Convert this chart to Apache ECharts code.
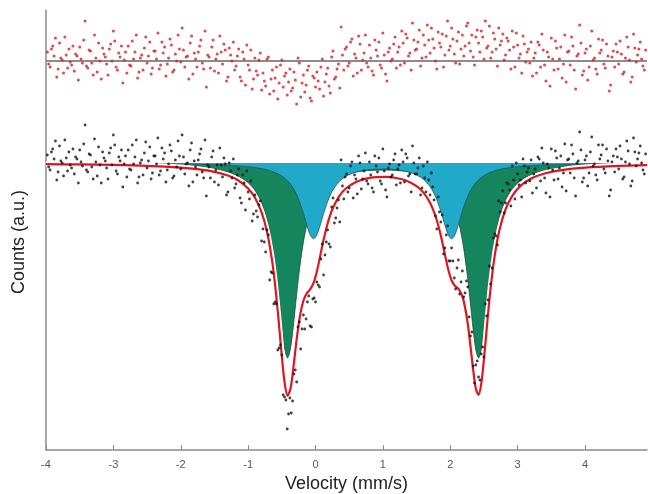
<!DOCTYPE html>
<html>
<head>
<meta charset="utf-8">
<script src="https://cdn.jsdelivr.net/npm/echarts@6/dist/echarts.min.js"></script>
<style>
html,body{margin:0;padding:0;background:#fff;}
#chart{width:648px;height:494px;}
</style>
</head>
<body>
<div id="chart"></div>
<script>
// Velocity grid of the fitted curves (mm/s)
const V_CURVE = [-4.0,-3.5,-3.0,-2.5,-2.0,-1.75,-1.5,-1.3,-1.15,-1.0,-0.9,-0.8,-0.72,-0.65,-0.6,-0.55,-0.5,-0.46,-0.415,-0.37,-0.33,-0.28,-0.23,-0.18,-0.13,-0.08,-0.03,0.02,0.07,0.12,0.18,0.25,0.35,0.45,0.6,0.75,0.9,1.05,1.2,1.35,1.5,1.6,1.7,1.78,1.85,1.91,1.97,2.02,2.07,2.13,2.19,2.25,2.3,2.34,2.38,2.42,2.46,2.5,2.55,2.6,2.66,2.73,2.82,2.92,3.05,3.2,3.4,3.65,4.0,4.5,4.92];
// Green doublet (counts relative to baseline)
const GREEN = [-0.74,-0.97,-1.33,-1.95,-3.21,-4.38,-6.42,-9.33,-13.1,-19.7,-27.2,-39.7,-56.2,-78.9,-101.9,-131.1,-163.3,-184.9,-194.9,-184.9,-163.5,-131.3,-102.1,-79.2,-62.1,-49.5,-40.2,-33.2,-27.8,-23.7,-19.9,-16.6,-13.3,-11.0,-8.9,-7.7,-7.2,-7.1,-7.5,-8.4,-10.1,-12.0,-14.6,-17.7,-21.4,-25.6,-31.4,-37.8,-46.4,-60.7,-81.3,-110.2,-140.9,-166.5,-186.9,-194.9,-186.9,-166.5,-134.3,-104.5,-77.0,-54.9,-37.3,-25.9,-17.2,-11.8,-7.74,-5.1,-3.22,-1.96,-1.40];
// Blue doublet
const BLUE = [-0.30,-0.38,-0.50,-0.70,-1.04,-1.33,-1.77,-2.30,-2.88,-3.72,-4.52,-5.6,-6.8,-8.18,-9.44,-11.0,-13.0,-14.9,-17.8,-21.3,-25.3,-31.6,-40.0,-50.4,-61.8,-71.7,-75.8,-71.8,-62.0,-50.6,-38.5,-28.0,-18.7,-13.4,-9.1,-7.07,-6.19,-6.09,-6.74,-8.41,-11.9,-16.2,-23.7,-33.5,-46.2,-59.8,-71.8,-75.8,-71.7,-59.6,-46.0,-34.7,-27.6,-23.2,-19.6,-16.8,-14.4,-12.6,-10.7,-9.17,-7.74,-6.46,-5.25,-4.25,-3.34,-2.62,-1.98,-1.46,-1.03,-0.69,-0.52];
// Total fit
const FIT = [-1.11,-1.44,-1.96,-2.85,-4.58,-6.17,-8.85,-12.58,-17.3,-25.4,-34.5,-49.4,-68.8,-95.2,-121.8,-155.6,-193.1,-218.9,-232.8,-225.3,-205.6,-176.4,-152.6,-137.8,-130.3,-126.3,-120.1,-108.4,-92.7,-76.8,-60.5,-46.3,-33.3,-25.5,-19.0,-15.6,-14.1,-13.9,-15.0,-17.7,-23.1,-29.4,-39.8,-53.0,-69.7,-88.1,-106.5,-117.5,-122.9,-126.5,-135.6,-156.3,-183.0,-206.8,-225.8,-231.8,-220.6,-196.1,-158.8,-124.4,-92.6,-67.1,-46.4,-32.8,-22.4,-15.5,-10.5,-7.1,-4.6,-2.85,-2.07];

// Measured channels, sweep 1 (mm/s)
const V_SWEEP1 = [
-3.98,-3.94,-3.90,-3.86,-3.82,-3.78,-3.74,-3.70,-3.66,-3.62,
-3.58,-3.54,-3.50,-3.46,-3.42,-3.38,-3.34,-3.30,-3.26,-3.22,
-3.18,-3.14,-3.10,-3.06,-3.02,-2.98,-2.94,-2.90,-2.86,-2.82,
-2.78,-2.74,-2.70,-2.66,-2.62,-2.58,-2.54,-2.50,-2.46,-2.42,
-2.38,-2.34,-2.30,-2.26,-2.22,-2.18,-2.14,-2.10,-2.06,-2.02,
-1.98,-1.94,-1.90,-1.86,-1.82,-1.78,-1.74,-1.70,-1.66,-1.62,
-1.58,-1.54,-1.50,-1.46,-1.42,-1.38,-1.34,-1.30,-1.26,-1.22,
-1.18,-1.14,-1.10,-1.06,-1.02,-0.98,-0.94,-0.90,-0.86,-0.82,
-0.78,-0.74,-0.70,-0.66,-0.62,-0.58,-0.54,-0.50,-0.46,-0.42,
-0.38,-0.34,-0.30,-0.26,-0.22,-0.18,-0.14,-0.10,-0.06,-0.02,
0.02,0.06,0.10,0.14,0.18,0.22,0.26,0.30,0.34,0.38,
0.42,0.46,0.50,0.54,0.58,0.62,0.66,0.70,0.74,0.78,
0.82,0.86,0.90,0.94,0.98,1.02,1.06,1.10,1.14,1.18,
1.22,1.26,1.30,1.34,1.38,1.42,1.46,1.50,1.54,1.58,
1.62,1.66,1.70,1.74,1.78,1.82,1.86,1.90,1.94,1.98,
2.02,2.06,2.10,2.14,2.18,2.22,2.26,2.30,2.34,2.38,
2.42,2.46,2.50,2.54,2.58,2.62,2.66,2.70,2.74,2.78,
2.82,2.86,2.90,2.94,2.98,3.02,3.06,3.10,3.14,3.18,
3.22,3.26,3.30,3.34,3.38,3.42,3.46,3.50,3.54,3.58,
3.62,3.66,3.70,3.74,3.78,3.82,3.86,3.90,3.94,3.98,
4.02,4.06,4.10,4.14,4.18,4.22,4.26,4.30,4.34,4.38,
4.42,4.46,4.50,4.54,4.58,4.62,4.66,4.70,4.74,4.78,
4.82,4.86,4.90];
const DATA1 = [
8,-7,14,22,-9,2,-13,5,11,-5,
-11,4,13,-3,38,-9,8,-16,1,16,
-20,5,-5,10,-2,18,-11,2,-24,7,
13,-7,-1,23,-14,3,10,-5,16,-10,
7,25,-8,4,-19,-1,12,-13,-4,7,
28,-11,0,13,-19,-4,3,14,-15,-33,
-4,6,-19,-2,15,-14,-1,-29,-8,4,
-21,-6,-40,-20,-8,-36,-58,-32,-54,-38,
-66,-89,-72,-109,-141,-141,-185,-192,-234,-266,
-235,-238,-207,-164,-186,-152,-156,-133,-164,-135,
-119,-124,-81,-92,-67,-84,-35,-55,-37,3,
-36,-11,-25,1,-12,-31,0,-16,10,-21,
-12,-29,-3,5,-21,-8,-34,-1,-12,9,
-6,-20,1,9,-13,-29,0,-11,5,-25,
-15,1,-32,-24,-53,-34,-59,-91,-72,-98,
-85,-115,-105,-131,-108,-130,-124,-173,-203,-202,
-214,-191,-194,-153,-103,-105,-71,-82,-49,-28,
-40,-21,-43,-17,0,-22,-34,-3,-9,-18,
-30,-6,6,-18,0,-30,-5,14,-17,5,
-5,-24,19,3,-10,9,-33,2,13,-15,
7,-10,26,-1,-17,4,18,-10,2,-27,
7,14,-6,4,-14,22,-1,-18,11,4,
17,-7,9];
const RESID1 = [
9,-6,15,23,-8,3,-12,6,12,-4,
-10,5,14,-2,40,-7,10,-14,3,18,
-18,7,-3,12,0,20,-9,4,-22,9,
15,-5,2,26,-11,6,13,-2,19,-7,
10,28,-4,8,-15,3,16,-9,0,12,
33,-6,5,18,-13,2,9,21,-8,-26,
4,14,-10,7,25,-3,11,-16,6,19,
-5,12,-20,2,16,-9,-28,3,-14,8,
-12,-25,4,-18,-30,-6,-22,1,-15,-34,
-8,-27,-19,3,-36,-14,-24,-5,-40,-17,
-11,-28,2,-21,-7,-32,10,-16,-3,34,
-9,14,-2,22,7,-12,17,1,26,-6,
3,-14,11,19,-7,6,-20,13,2,24,
9,-4,18,27,5,-9,21,12,31,3,
16,36,8,22,0,29,14,-6,25,11,
33,7,20,-3,26,15,38,10,4,24,
18,30,2,13,35,9,22,-5,16,27,
6,20,-8,14,28,3,-12,17,9,-2,
-15,8,19,-6,11,-20,4,23,-9,13,
2,-17,26,9,-4,15,-28,7,18,-10,
12,-6,30,3,-13,8,21,-7,5,-24,
10,17,-3,7,-11,24,1,-16,13,6,
19,-5,11];

// Measured channels, sweep 2 (mm/s)
const V_SWEEP2 = [
-3.96,-3.92,-3.88,-3.84,-3.80,-3.76,-3.72,-3.68,-3.64,-3.60,
-3.56,-3.52,-3.48,-3.44,-3.40,-3.36,-3.32,-3.28,-3.24,-3.20,
-3.16,-3.12,-3.08,-3.04,-3.00,-2.96,-2.92,-2.88,-2.84,-2.80,
-2.76,-2.72,-2.68,-2.64,-2.60,-2.56,-2.52,-2.48,-2.44,-2.40,
-2.36,-2.32,-2.28,-2.24,-2.20,-2.16,-2.12,-2.08,-2.04,-2.00,
-1.96,-1.92,-1.88,-1.84,-1.80,-1.76,-1.72,-1.68,-1.64,-1.60,
-1.56,-1.52,-1.48,-1.44,-1.40,-1.36,-1.32,-1.28,-1.24,-1.20,
-1.16,-1.12,-1.08,-1.04,-1.00,-0.96,-0.92,-0.88,-0.84,-0.80,
-0.76,-0.72,-0.68,-0.64,-0.60,-0.56,-0.52,-0.48,-0.44,-0.40,
-0.36,-0.32,-0.28,-0.24,-0.20,-0.16,-0.12,-0.08,-0.04,0.00,
0.04,0.08,0.12,0.16,0.20,0.24,0.28,0.32,0.36,0.40,
0.44,0.48,0.52,0.56,0.60,0.64,0.68,0.72,0.76,0.80,
0.84,0.88,0.92,0.96,1.00,1.04,1.08,1.12,1.16,1.20,
1.24,1.28,1.32,1.36,1.40,1.44,1.48,1.52,1.56,1.60,
1.64,1.68,1.72,1.76,1.80,1.84,1.88,1.92,1.96,2.00,
2.04,2.08,2.12,2.16,2.20,2.24,2.28,2.32,2.36,2.40,
2.44,2.48,2.52,2.56,2.60,2.64,2.68,2.72,2.76,2.80,
2.84,2.88,2.92,2.96,3.00,3.04,3.08,3.12,3.16,3.20,
3.24,3.28,3.32,3.36,3.40,3.44,3.48,3.52,3.56,3.60,
3.64,3.68,3.72,3.76,3.80,3.84,3.88,3.92,3.96,4.00,
4.04,4.08,4.12,4.16,4.20,4.24,4.28,4.32,4.36,4.40,
4.44,4.48,4.52,4.56,4.60,4.64,4.68,4.72,4.76,4.80,
4.84,4.88];
const DATA2 = [
-4,11,4,-17,17,0,23,-8,-2,14,
6,-20,1,19,-7,9,-4,24,-13,-2,
11,2,-16,15,28,-8,6,13,-1,-14,
-6,18,6,-20,0,-12,21,2,-16,7,
-1,-12,15,10,-7,18,-15,3,22,-6,
6,-1,-23,20,2,-12,9,-9,23,-2,
-15,12,-7,-22,-2,5,-32,0,-15,-25,
-12,-35,-12,-47,-29,-18,-51,-48,-42,-78,
-79,-67,-117,-110,-139,-187,-182,-232,-237,-251,
-250,-211,-219,-159,-166,-166,-139,-163,-136,-139,
-122,-96,-112,-79,-81,-44,-60,-45,-59,-23,
-14,-29,-3,-35,-16,7,-26,-8,-18,1,
-25,7,-9,-18,14,-27,-5,-14,3,-22,
-2,13,-19,5,-11,17,-11,-5,-32,-3,
-29,-17,-10,-37,-66,-49,-52,-85,-63,-98,
-98,-126,-97,-119,-134,-118,-154,-169,-220,-198,
-217,-184,-141,-137,-121,-75,-73,-38,-40,-50,
-20,-27,-3,-36,-11,-17,4,-20,-5,3,
-11,-25,4,15,-15,-1,-34,-7,12,-16,
7,-10,-28,4,18,-15,0,31,-19,3,
-23,11,-3,-12,18,8,-6,14,-33,1,
-9,6,17,-16,1,12,-23,25,-3,10,
0,-11];
const RESID2 = [
-3,12,5,-16,18,1,24,-7,-1,15,
7,-19,2,21,-5,11,-2,26,-11,0,
13,4,-14,17,30,-6,8,15,1,-12,
-4,20,9,-17,3,-9,24,5,-13,10,
2,-8,19,14,-3,22,-11,7,26,-1,
11,4,-18,25,8,-6,15,-2,30,6,
-7,21,2,-12,9,17,-20,13,0,-9,
5,-16,9,-24,-4,11,-18,-10,1,-29,
-20,2,-33,-9,-17,-38,-4,-26,-12,-21,
-30,-11,-43,-2,-22,-31,-9,-37,-15,-26,
-20,-6,-35,-13,-25,4,-18,-8,-27,6,
12,-5,19,-15,3,25,-9,8,-2,16,
-10,21,5,-4,28,-13,9,0,17,-7,
14,30,-2,23,8,38,11,19,-5,26,
4,21,33,13,-8,18,27,6,40,15,
22,-2,29,12,5,35,18,26,-4,31,
9,24,40,15,3,28,12,33,20,1,
23,11,30,-6,16,7,25,-1,12,19,
3,-12,16,27,-4,9,-25,2,20,-8,
14,-3,-21,10,24,-9,5,36,-14,8,
-19,15,1,-8,22,11,-3,17,-30,4,
-6,9,20,-13,3,14,-21,27,-1,12,
2,-9];

const X_MIN = -4, X_MAX = 4.92, X_STEP = 1;

function zip(xs, ys){ return xs.map((x,i)=>[x, ys[i]]); }

const chart = echarts.init(document.getElementById('chart'), null, {renderer:'canvas'});
const FONT = 'Liberation Sans, Arial, sans-serif';
const dataStyle = {color: '#111111'};
const residStyle = {color: '#dc1a2c'};
chart.setOption({
  animation: false,
  backgroundColor: '#ffffff',
  grid: {left: 46, right: 1, top: 10, bottom: 44, containLabel: false, outerBoundsMode: 'none'},
  xAxis: {
    type: 'value', min: X_MIN, max: X_MAX, interval: X_STEP,
    name: 'Velocity (mm/s)', nameLocation: 'middle', nameGap: 24,
    nameTextStyle: {fontFamily: FONT, fontSize: 18, color: '#222'},
    axisLine: {onZero: false, lineStyle: {color: '#8a8a8a', width: 1.5}},
    axisTick: {inside: true, length: 5, lineStyle: {color: '#8a8a8a', width: 1}},
    axisLabel: {color: '#555', fontSize: 11, fontFamily: FONT, margin: 9, showMaxLabel: false},
    splitLine: {show: false}
  },
  yAxis: [
    {type: 'value', min: -287, max: 153,
     axisLine: {show: true, onZero: false, lineStyle: {color: '#8a8a8a', width: 1.5}},
     axisTick: {show: false}, axisLabel: {show: false}, splitLine: {show: false}},
    {type: 'value', min: -389, max: 51, show: false}
  ],
  graphic: [{
    type: 'text', x: 19, y: 242, rotation: Math.PI / 2,
    style: {text: 'Counts (a.u.)', font: '18px "Liberation Sans", Arial, sans-serif', fill: '#222',
            textAlign: 'center', textVerticalAlign: 'middle'}
  }],
  series: [
    {type: 'line', name: 'green', data: zip(V_CURVE, GREEN), showSymbol: false, smooth: 0.3, z: 2,
     lineStyle: {color: '#1d4a38', width: 0.8}, areaStyle: {color: '#14855c', opacity: 1}},
    {type: 'line', name: 'blue', data: zip(V_CURVE, BLUE), showSymbol: false, smooth: 0.3, z: 3,
     lineStyle: {color: '#1f5562', width: 0.8}, areaStyle: {color: '#20a9c8', opacity: 1}},
    {type: 'line', name: 'halo', data: zip(V_CURVE, FIT), showSymbol: false, smooth: 0.3, z: 4,
     lineStyle: {color: '#ffffff', width: 6}},
    {type: 'line', name: 'fit', data: zip(V_CURVE, FIT), showSymbol: false, smooth: 0.3, z: 5,
     lineStyle: {color: '#e3151c', width: 2.2}},
    {type: 'scatter', name: 'data1', data: zip(V_SWEEP1, DATA1), symbolSize: 2.8, z: 6, itemStyle: dataStyle},
    {type: 'scatter', name: 'data2', data: zip(V_SWEEP2, DATA2), symbolSize: 2.8, z: 6, itemStyle: dataStyle},
    {type: 'scatter', name: 'resid1', yAxisIndex: 1, data: zip(V_SWEEP1, RESID1), symbolSize: 3, z: 6,
     itemStyle: residStyle,
     markLine: {silent: true, symbol: 'none', label: {show: false}, animation: false,
                lineStyle: {color: '#8c8c8c', width: 2, type: 'solid'}, data: [{yAxis: 0}]}},
    {type: 'scatter', name: 'resid2', yAxisIndex: 1, data: zip(V_SWEEP2, RESID2), symbolSize: 3, z: 6,
     itemStyle: residStyle}
  ]
});
</script>
</body>
</html>
